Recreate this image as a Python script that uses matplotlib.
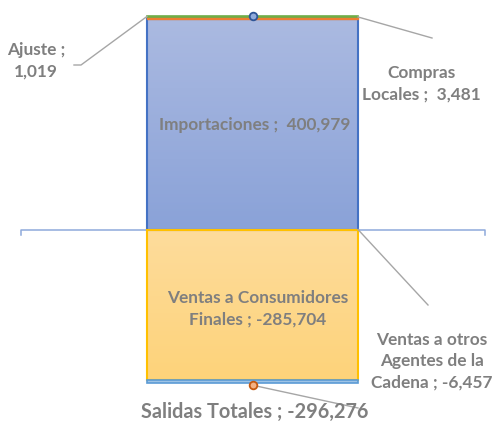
import numpy as np
import matplotlib
matplotlib.use("Agg")
import matplotlib.pyplot as plt
from matplotlib.colors import LinearSegmentedColormap

# ---- data ----
pos_names = ["Importaciones", "Compras Locales", "Ajuste"]
pos_values = [400979, 3481, 1019]
neg_names = ["Ventas a Consumidores Finales", "Ventas a otros Agentes de la Cadena"]
neg_values = [-285704, -6457]
total_name = "Salidas Totales"
total_value = -296276

W, H = 493, 426
fig = plt.figure(figsize=(W / 100, H / 100), dpi=100)
ax = fig.add_axes([0, 0, 1, 1])
ax.set_axis_off()

px_per_unit_x = 211.0
cx = 252.5
ax.set_xlim((0 - cx) / px_per_unit_x, (W - cx) / px_per_unit_x)
y0px = 229.5
upp = 1903.0
ax.set_ylim(-(H - y0px) * upp, y0px * upp)

FONT = ["Lato", "DejaVu Sans"]
GRAY = "#7f7f7f"

def grad_bar(x, bottom, top, c_vis_top, c_vis_bot, edge, lw, z):
    cmap = LinearSegmentedColormap.from_list("g", [c_vis_bot, c_vis_top])
    lo, hi = min(bottom, top), max(bottom, top)
    grad = np.linspace(1, 0, 256).reshape(-1, 1)
    ax.imshow(grad, cmap=cmap, aspect="auto", extent=(x - 0.5, x + 0.5, lo, hi),
              zorder=z, interpolation="bicubic")
    ax.bar([x], [top - bottom], bottom=bottom, width=1.0, facecolor="none",
           edgecolor=edge, linewidth=lw, zorder=z + 0.1)

# positive stack
grad_bar(0, 0, pos_values[0], "#abbae1", "#8aa2d8", "#4472c4", 1.5, 2)
cum = pos_values[0]
ax.bar([0], [pos_values[1]], bottom=cum, width=1.0, color="#ed7d31",
       edgecolor="#ed7d31", linewidth=1.0, zorder=3)
cum += pos_values[1]
ax.bar([0], [pos_values[2]], bottom=cum, width=1.0, color="#70ad47",
       edgecolor="#70ad47", linewidth=1.2, zorder=3)
cum += pos_values[2]
pos_total = cum

# negative stack
grad_bar(0, 0, neg_values[0], "#fddc9c", "#fed37a", "#ffc000", 1.5, 2)
ax.bar([0], [neg_values[1]], bottom=neg_values[0], width=1.0, color="#9dc3e6",
       edgecolor="#5b9bd5", linewidth=1.2, zorder=3)

# axis line
xa0 = (21 - cx) / px_per_unit_x
xa1 = (485 - cx) / px_per_unit_x
tk = 5 * upp
ax.plot([xa0, xa0, xa1, xa1], [-tk, 0, 0, -tk], color="#8eaadb", lw=1.1, zorder=1.5)

# markers
ax.plot([0], [pos_total], marker="o", ms=5.5, mfc="#8faadc", mec="#2f5597", mew=1.3, zorder=5)
ax.plot([0], [total_value], marker="o", ms=5.5, mfc="#f4b183", mec="#c55a11", mew=1.3, zorder=5)

def dx(xpx):
    return (xpx - cx) / px_per_unit_x

def dy(ypx):
    return (y0px - ypx) * upp

FS = 12.4
kw = dict(color=GRAY, fontweight="bold", family=FONT, ha="center", va="center",
          linespacing=1.42, zorder=6)
lk = dict(color="#a6a6a6", lw=1.0, zorder=4)

# Importaciones
ax.text(dx(255), dy(125), f"{pos_names[0]} ;  {pos_values[0]:,}", fontsize=FS, **kw)
# Ajuste
ax.text(dx(36), dy(61), f"{pos_names[2]} ;\n{pos_values[2]:,}", fontsize=FS, **kw)
ax.plot([dx(74), dx(81), -0.5], [dy(65), dy(65), pos_total], **lk)
# Compras Locales
ax.text(dx(421), dy(84), f"Compras\nLocales ;  {pos_values[1]:,}", fontsize=FS, **kw)
ax.plot([0.5, dx(432)], [pos_values[0] + pos_values[1], dy(38)], **lk)
# Ventas a Consumidores
ax.text(dx(258), dy(309), f"Ventas a Consumidores\nFinales ; {neg_values[0]:,}", fontsize=FS, **kw)
# Ventas a otros
ax.text(dx(432), dy(361), f"Ventas a otros\nAgentes de la\nCadena ; {neg_values[1]:,}",
        fontsize=FS, **kw)
ax.plot([0.5, dx(428)], [0, dy(305)], **lk)
# Salidas Totales
ax.text(dx(255), dy(412), f"{total_name} ; {total_value:,}", fontsize=14.3, **kw)
ax.plot([0, dx(358)], [total_value, dy(408)], **lk)

fig.savefig("out.png", dpi=100)
